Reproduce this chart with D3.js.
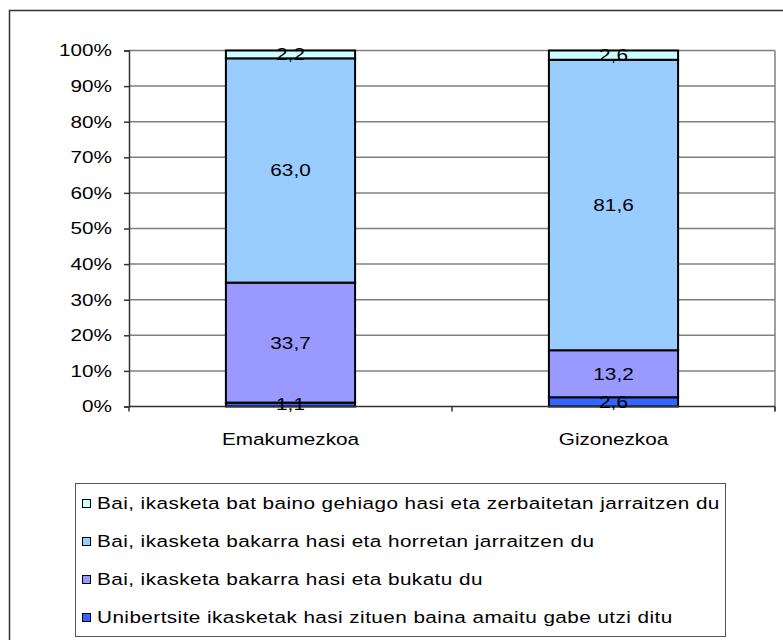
<!DOCTYPE html>
<meta charset="utf-8">
<html>
<head>
<style>
  body { margin: 0; background: #fff; }
  text { font-family: "Liberation Sans", Arial, sans-serif; fill: #000; }
</style>
</head>
<body>
<svg width="783" height="640"></svg>
<script src="https://d3js.org/d3.v7.min.js"></script>
<script>
// data
var categories = ["Emakumezkoa", "Gizonezkoa"];
var seriesNames = [
  "Unibertsite ikasketak hasi zituen baina amaitu gabe utzi ditu",
  "Bai, ikasketa bakarra hasi eta bukatu du",
  "Bai, ikasketa bakarra hasi eta horretan jarraitzen du",
  "Bai, ikasketa bat baino gehiago hasi eta zerbaitetan jarraitzen du"
];
var utzi = [1.1, 2.6];
var bukatu = [33.7, 13.2];
var horretan = [63.0, 81.6];
var zerbaitetan = [2.2, 2.6];
var colors = ["#3366ff", "#9999ff", "#99ccff", "#ccffff"];
var yTicks = [0, 10, 20, 30, 40, 50, 60, 70, 80, 90, 100];

var svg = d3.select("svg");
var fs = 17, sx = 1.22;

// the source text is drawn a bit wide, so stretch glyphs horizontally
function place(x, y) {
  return "translate(" + x + "," + y + ") scale(" + sx + ",1)";
}

// outer frame
svg.append("rect")
    .attr("x", 9.5).attr("y", 10.5)
    .attr("width", 790).attr("height", 640)
    .attr("fill", "none").attr("stroke", "#333").attr("stroke-width", 1.5);

var pLeft = 129, pRight = 775, pTop = 50.5, pBottom = 406.5;

var x = d3.scaleBand().domain(categories).range([pLeft, pRight])
    .paddingInner(0.6).paddingOuter(0.3);
var y = d3.scaleLinear().domain([0, 100]).range([pBottom, pTop]);

var rows = categories.map(function(c, i) {
  return {cat: c, s0: utzi[i], s1: bukatu[i], s2: horretan[i], s3: zerbaitetan[i]};
});
var stack = d3.stack().keys(["s0", "s1", "s2", "s3"]);
var layers = stack(rows);

// gridlines
svg.append("g").selectAll("line").data(yTicks.slice(1)).enter().append("line")
    .attr("x1", pLeft).attr("x2", pRight)
    .attr("y1", function(d) { return y(d); })
    .attr("y2", function(d) { return y(d); })
    .attr("stroke", "#808080").attr("stroke-width", 1.5);

// plot right edge
svg.append("line")
    .attr("x1", pRight).attr("x2", pRight).attr("y1", pTop).attr("y2", pBottom + 5)
    .attr("stroke", "#808080").attr("stroke-width", 1.5);

// y axis
var yAxis = svg.append("g")
    .attr("transform", "translate(" + pLeft + ",0)")
    .call(d3.axisLeft(y).tickValues(yTicks).tickSize(5).tickPadding(12)
      .tickFormat(function(d) { return d + "%"; }));
yAxis.select(".domain").attr("stroke", "#333").attr("stroke-width", 1.5);
yAxis.selectAll(".tick line").attr("stroke", "#333").attr("stroke-width", 1.5);
yAxis.selectAll("text")
    .attr("x", 0).attr("transform", place(-17, 0))
    .attr("font-size", fs).attr("fill", "#000")
    .attr("font-family", "Liberation Sans, Arial, sans-serif");

// bars
svg.append("g").selectAll("g").data(layers).enter().append("g")
    .attr("fill", function(d, i) { return colors[i]; })
  .selectAll("rect").data(function(d) { return d; }).enter().append("rect")
    .attr("x", function(d) { return x(d.data.cat); })
    .attr("y", function(d) { return y(d[1]); })
    .attr("width", x.bandwidth())
    .attr("height", function(d) { return y(d[0]) - y(d[1]); })
    .attr("stroke", "#000").attr("stroke-width", 2);

// x axis
svg.append("line")
    .attr("x1", pLeft).attr("x2", pRight).attr("y1", pBottom).attr("y2", pBottom)
    .attr("stroke", "#333").attr("stroke-width", 1.5);
var xTickPos = [pLeft, (pLeft + pRight) / 2, pRight];
svg.append("g").selectAll("line").data(xTickPos).enter().append("line")
    .attr("x1", function(d) { return d; }).attr("x2", function(d) { return d; })
    .attr("y1", pBottom).attr("y2", pBottom + 5)
    .attr("stroke", "#333").attr("stroke-width", 1.5);
svg.append("g").selectAll("text").data(categories).enter().append("text")
    .attr("transform", function(d) { return place(x(d) + x.bandwidth() / 2, 439); })
    .attr("dy", "0.35em")
    .attr("text-anchor", "middle").attr("font-size", fs)
    .text(function(d) { return d; });

// value labels
svg.append("g").selectAll("g").data(layers).enter().append("g")
  .selectAll("text").data(function(d) { return d; }).enter().append("text")
    .attr("transform", function(d) {
      return place(x(d.data.cat) + x.bandwidth() / 2, y((d[0] + d[1]) / 2));
    })
    .attr("dy", "0.35em")
    .attr("text-anchor", "middle").attr("font-size", fs)
    .text(function(d) { return d3.format(".1f")(d[1] - d[0]).replace(".", ","); });

// legend
var legend = svg.append("g");
legend.append("rect")
    .attr("x", 75.5).attr("y", 483.5).attr("width", 650).attr("height", 153)
    .attr("fill", "#fff").attr("stroke", "#555").attr("stroke-width", 1);
var legendOrder = [3, 2, 1, 0];
var items = legend.selectAll("g.item").data(legendOrder).enter().append("g")
    .attr("transform", function(d, i) { return "translate(0," + (503 + i * 38) + ")"; });
items.append("rect")
    .attr("x", 82.5).attr("y", -3.5).attr("width", 8).attr("height", 8)
    .attr("fill", function(d) { return colors[d]; })
    .attr("stroke", "#000").attr("stroke-width", 1);
items.append("text")
    .attr("transform", place(97, 0))
    .attr("dy", "0.35em").attr("font-size", fs).attr("letter-spacing", "0.35px")
    .text(function(d) { return seriesNames[d]; });
</script>
</body>
</html>
